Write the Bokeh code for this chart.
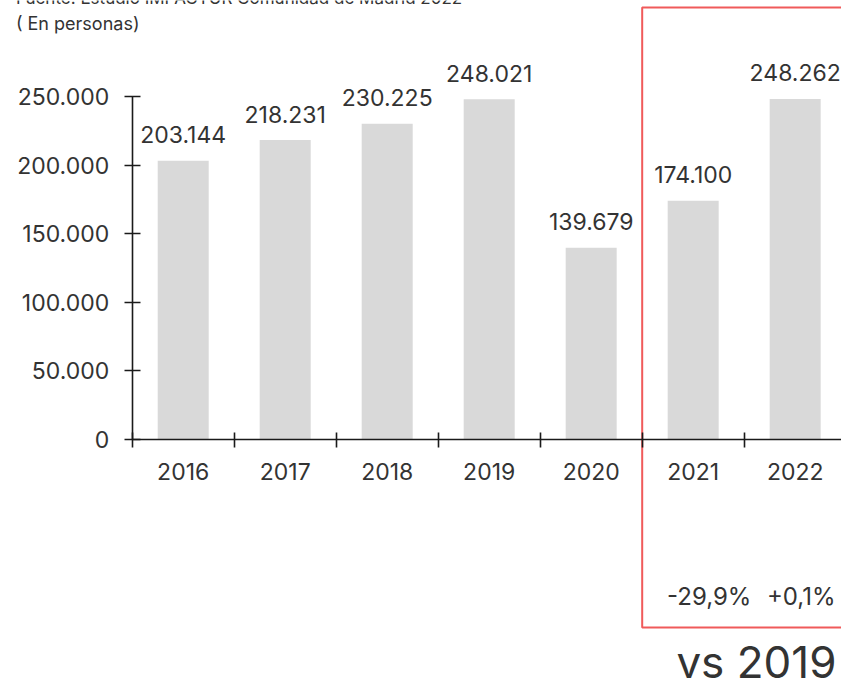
from bokeh.plotting import figure
from bokeh.models import Range1d, LinearAxis, FixedTicker, ColumnDataSource
from bokeh.core.properties import value
from bokeh.embed import file_html
from bokeh.resources import INLINE

# ---- data ----
years = ["2016", "2017", "2018", "2019", "2020", "2021", "2022"]
visitors = [203144, 218231, 230225, 248021, 139679, 174100, 248262]
y_ticks = [0, 50000, 100000, 150000, 200000, 250000]
y_tick_labels = ["0", "50.000", "100.000", "150.000", "200.000", "250.000"]
pct_years = ["2021", "2022"]
pct_labels = ["-29,9%", "+0,1%"]
source_text = "Fuente: Estudio IMPACTUR Comunidad de Madrid 2022"
unit_text = "( En personas)"
compare_text = "vs 2019"

FONT = "Inter"
TXT = "#333333"
AX = "#1a1a1a"

centers = [i + 0.5 for i in range(len(years))]
labels = [f"{v:,}".replace(",", ".") for v in visitors]

W, H = 841, 681
p = figure(width=W, height=H, output_backend="svg", toolbar_location=None,
           x_range=Range1d(-1.2912, 6.954), y_range=Range1d(-176384, 319970),
           x_axis_type=None, y_axis_type=None,
           min_border=0, min_border_left=0, min_border_right=0,
           min_border_top=0, min_border_bottom=0)
p.outline_line_color = None
p.xgrid.visible = False
p.ygrid.visible = False
p.background_fill_color = "white"

src = ColumnDataSource(dict(x=centers, top=visitors, label=labels, year=years))

p.vbar(x="x", top="top", width=0.5, bottom=0, source=src,
       fill_color="#d9d9d9", line_color=None)

p.text(x="x", y="top", text="label", source=src, y_offset=-26,
       text_align="center", text_baseline="alphabetic",
       text_font=value(FONT), text_font_size="23px", text_color=TXT)

# y axis
yax = LinearAxis(fixed_location=0, bounds=(0, 250000),
                 ticker=FixedTicker(ticks=y_ticks, minor_ticks=[]),
                 major_label_overrides={t: l for t, l in zip(y_ticks, y_tick_labels)})
yax.axis_line_color = AX
yax.axis_line_width = 1.6
yax.major_tick_line_color = AX
yax.major_tick_line_width = 1.6
yax.major_tick_in = 8
yax.major_tick_out = 8
yax.minor_tick_line_color = None
yax.major_label_standoff = 15
yax.major_label_text_font = FONT
yax.major_label_text_font_size = "23px"
yax.major_label_text_color = TXT
p.add_layout(yax, "left")

# x axis
bounds_ticks = list(range(len(years) + 1))
xax = LinearAxis(fixed_location=0, bounds=(0, len(years)),
                 ticker=FixedTicker(ticks=centers, minor_ticks=bounds_ticks),
                 major_label_overrides={c: y for c, y in zip(centers, years)})
xax.axis_line_color = AX
xax.axis_line_width = 1.6
xax.major_tick_line_color = None
xax.major_tick_in = 0
xax.major_tick_out = 0
xax.minor_tick_line_color = AX
xax.minor_tick_line_width = 1.6
xax.minor_tick_in = 7
xax.minor_tick_out = 8
xax.major_label_standoff = 15
xax.major_label_text_font = FONT
xax.major_label_text_font_size = "23px"
xax.major_label_text_color = TXT
p.add_layout(xax, "below")

# highlight box for 2021-2022
p.quad(left=5.0, right=7.5, top=314800, bottom=-137000,
       fill_color=None, line_color="#f05a5a", line_width=2)

pct_x = [centers[years.index(y)] for y in pct_years]
p.text(x=pct_x, y=[-114400] * len(pct_x), text=pct_labels, x_offset=[16, 6],
       text_align="center", text_baseline="alphabetic",
       text_font=value(FONT), text_font_size="24px", text_color=TXT)

p.text(x=[6.12], y=[-162400], text=[compare_text],
       text_align="center", text_baseline="alphabetic",
       text_font=value(FONT), text_font_size="44px", text_color=TXT)

# header texts
p.text(x=[-1.14], y=[303150], text=[unit_text],
       text_align="left", text_baseline="alphabetic",
       text_font=value(FONT), text_font_size="18px", text_color=TXT)
p.text(x=[-1.14], y=[321770], text=[source_text],
       text_align="left", text_baseline="alphabetic",
       text_font=value(FONT), text_font_size="17px", text_color=TXT)

open("out.html", "w").write(file_html(p, INLINE))
